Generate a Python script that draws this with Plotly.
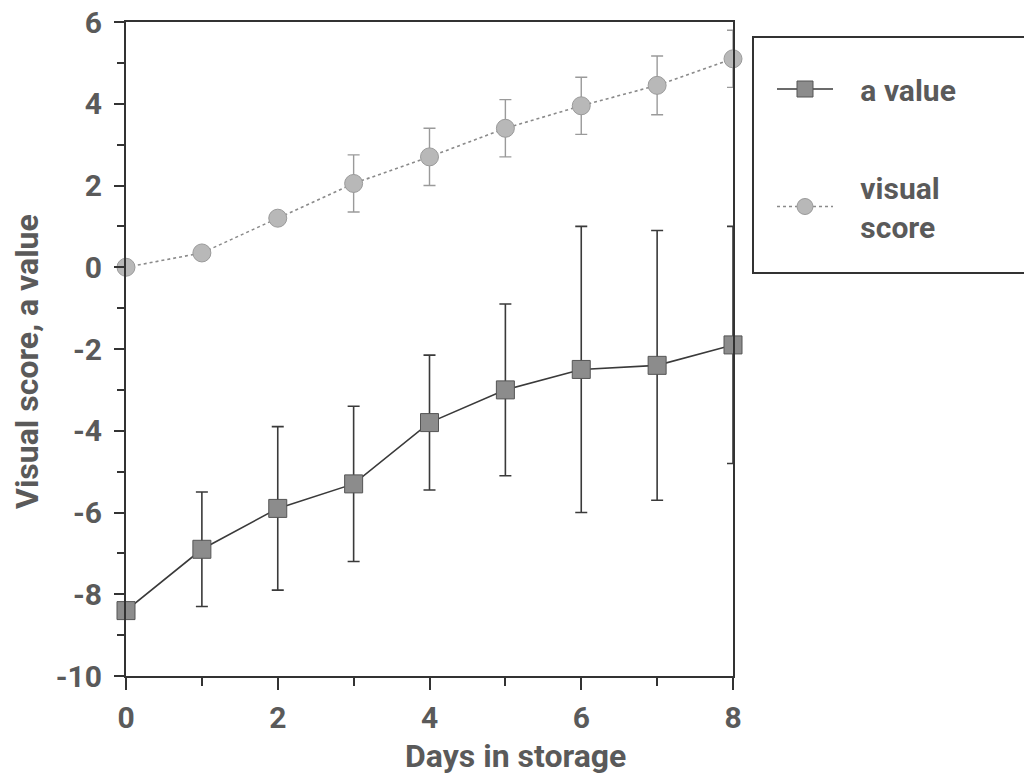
import plotly.graph_objects as go

days = [0, 1, 2, 3, 4, 5, 6, 7, 8]
a_value = [-8.4, -6.9, -5.9, -5.3, -3.8, -3.0, -2.5, -2.4, -1.9]
a_value_err = [0.0, 1.4, 2.0, 1.9, 1.65, 2.1, 3.5, 3.3, 2.9]
visual_score = [0.0, 0.35, 1.2, 2.05, 2.7, 3.4, 3.95, 4.45, 5.1]
visual_score_err = [0.0, 0.0, 0.0, 0.7, 0.7, 0.7, 0.7, 0.72, 0.7]
y_ticks = [-10, -8, -6, -4, -2, 0, 2, 4, 6]
y_tick_labels = ["-10", "-8", "-6", "-4", "-2", "0", "2", "4", "6"]
x_ticks = [0, 2, 4, 6, 8]

FONT = "Roboto, DejaVu Sans, sans-serif"
TXT = "#5a5a5a"
NB = "\u00a0\u00a0\u00a0"

# plot area in screen px (page has an 8px body offset)
L, R, T, B = 126, 733, 22, 676
def px(sx):
    return (sx - L) / (R - L)
def py(sy):
    return (B - sy) / (B - T)

fig = go.Figure()
fig.add_trace(go.Scatter(
    x=days, y=a_value, name=NB + "a value", mode="lines+markers",
    line=dict(color="#3a3a3a", width=1.6),
    marker=dict(symbol="square", size=18, color="#8c8c8c",
                line=dict(color="#555555", width=1)),
    error_y=dict(type="data", array=a_value_err, visible=True,
                 color="#3a3a3a", thickness=1.6, width=6),
    cliponaxis=False, legendgroup="a",
))
fig.add_trace(go.Scatter(
    x=days, y=visual_score, name=NB + "visual<br>" + NB + "score",
    mode="lines+markers",
    line=dict(color="#8a8a8a", width=1.6, dash="dot"),
    marker=dict(symbol="circle", size=18, color="#b8b8b8",
                line=dict(color="#9a9a9a", width=1)),
    error_y=dict(type="data", array=visual_score_err, visible=True,
                 color="#9a9a9a", thickness=1.4, width=6),
    cliponaxis=False, legendgroup="v",
))

axis_common = dict(
    showgrid=False, zeroline=False, showline=True, linecolor="#333333",
    linewidth=2, mirror=True, ticks="outside", tickcolor="#333333",
    tickwidth=2, automargin=False, ticklabeloverflow="allow",
    tickfont=dict(family=FONT, size=30, color=TXT, weight="bold"),
)

fig.update_layout(
    width=1032, height=777,
    paper_bgcolor="white", plot_bgcolor="white",
    margin=dict(l=L - 8, r=1032 - (R - 8), t=T - 8, b=777 - (B - 8),
                autoexpand=False),
    font=dict(family=FONT, color=TXT),
    xaxis=dict(range=[0, 8], tickvals=x_ticks, ticklen=12,
               ticklabelstandoff=2,
               minor=dict(tickvals=[1, 3, 5, 7], ticklen=8, tickwidth=2,
                          tickcolor="#333333", ticks="outside"),
               **axis_common),
    yaxis=dict(range=[-10, 6], tickvals=y_ticks, ticktext=y_tick_labels,
               ticklen=10, ticklabelstandoff=6,
               minor=dict(tickvals=[-9, -7, -5, -3, -1, 1, 3, 5], ticklen=7,
                          tickwidth=2, tickcolor="#333333", ticks="outside"),
               **axis_common),
    showlegend=True,
    legend=dict(x=px(772), xanchor="left", y=py(63), yanchor="top",
                bgcolor="rgba(0,0,0,0)", borderwidth=0,
                font=dict(family=FONT, size=30, color=TXT, weight="bold"),
                valign="middle", tracegroupgap=56, traceorder="grouped",
                itemwidth=56),
    shapes=[dict(type="rect", xref="paper", yref="paper",
                 x0=px(753), x1=1.6, y0=py(273), y1=py(37),
                 line=dict(color="#333333", width=2))],
    annotations=[
        dict(text="Days in storage", xref="paper", yref="paper",
             x=px(515), y=py(756),
             xanchor="center", yanchor="middle", showarrow=False,
             font=dict(family=FONT, size=32, color=TXT, weight="bold")),
        dict(text="Visual score, a value", xref="paper", yref="paper",
             x=px(27), y=py(362), textangle=-90,
             xanchor="center", yanchor="middle", showarrow=False,
             font=dict(family=FONT, size=32, color=TXT, weight="bold")),
    ],
)

fig.write_html("out.html")
